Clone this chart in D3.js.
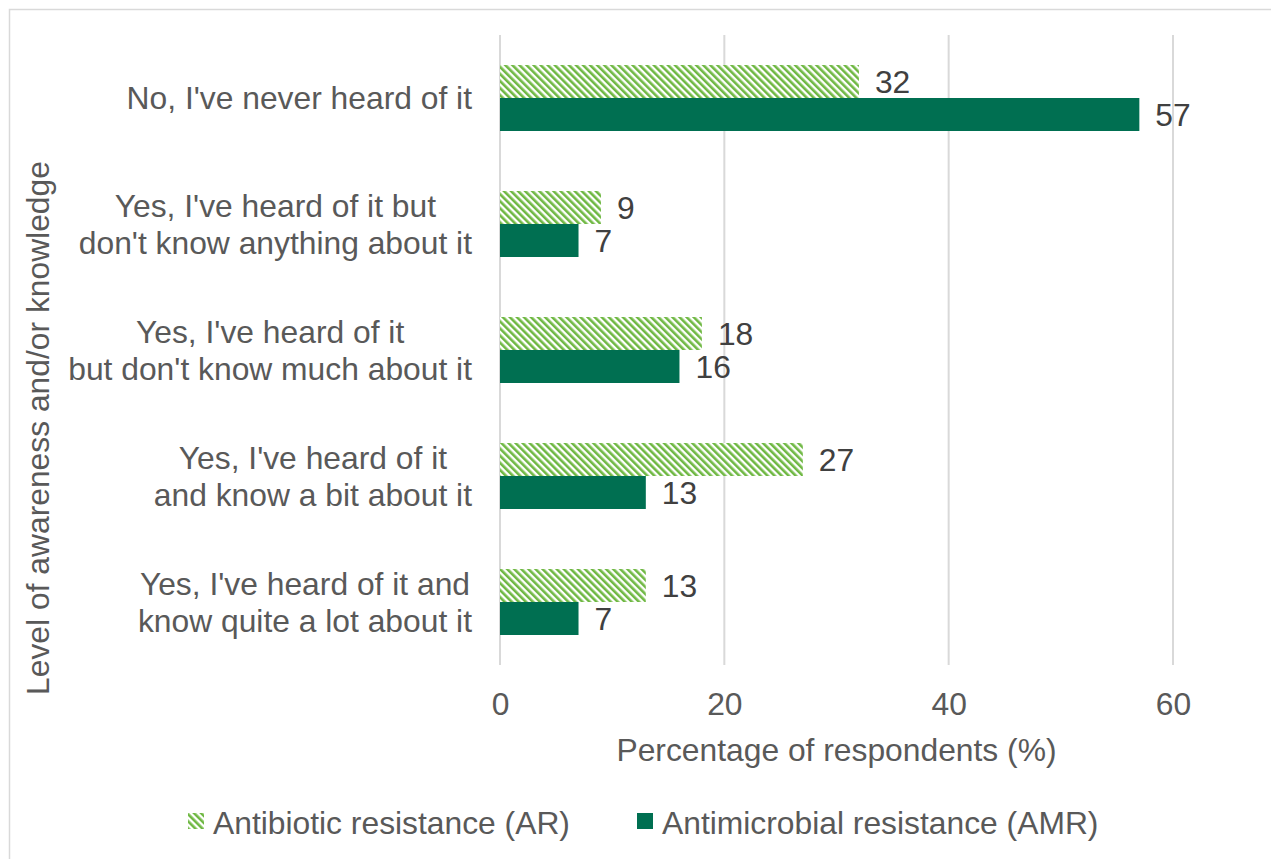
<!DOCTYPE html>
<html lang="en">
<head>
    <meta charset="UTF-8">
    <title>Awareness of AR and AMR</title>
    <script src="https://d3js.org/d3.v7.min.js"></script>
    <style>
        body { margin: 0; background: #fff; }
        text { font-family: "Liberation Sans", Arial, sans-serif; }
    </style>
</head>
<body>
    <script>
        var categories = [
            ["No, I've never heard of it"],
            ["Yes, I've heard of it but", "don't know anything about it"],
            ["Yes, I've heard of it", "but don't know much about it"],
            ["Yes, I've heard of it", "and know a bit about it"],
            ["Yes, I've heard of it and", "know quite a lot about it"]
        ];
        var seriesNames = ['Antibiotic resistance (AR)', 'Antimicrobial resistance (AMR)'];
        var arValues = [32, 9, 18, 27, 13];
        var amrValues = [57, 7, 16, 13, 7];
        var xTicks = [0, 20, 40, 60];

        var width = 1271;
        var height = 859;
        var plotLeft = 500, plotRight = 1173, plotTop = 35, plotBottom = 665;
        var fontSize = 31.8;

        var svg = d3.select('body')
                    .append('svg')
                    .attr('width', width)
                    .attr('height', height);

        // hatch for the AR bars
        var pat = svg.append('defs')
                     .append('pattern')
                     .attr('id', 'hatch')
                     .attr('patternUnits', 'userSpaceOnUse')
                     .attr('width', 5)
                     .attr('height', 5)
                     .attr('patternTransform', 'rotate(-45)');
        pat.append('rect').attr('width', 5).attr('height', 5).attr('fill', '#fff');
        pat.append('rect').attr('width', 2.6).attr('height', 5).attr('fill', '#6fb843');

        // chart frame
        svg.append('rect')
           .attr('x', 9.5).attr('y', 9.5)
           .attr('width', 1300).attr('height', 900)
           .attr('fill', 'none')
           .attr('stroke', '#d9d9d9')
           .attr('stroke-width', 1.5);

        var x = d3.scaleLinear().domain([0, 60]).range([plotLeft, plotRight]);
        var y = d3.scaleBand()
                  .domain(d3.range(categories.length))
                  .range([plotTop, plotBottom]);
        var inner = d3.scaleBand().domain([0, 1]).range([30, y.bandwidth() - 30]);

        // gridlines
        svg.append('g')
           .selectAll('line')
           .data(xTicks)
           .enter()
           .append('line')
           .attr('x1', function(d) { return x(d); })
           .attr('x2', function(d) { return x(d); })
           .attr('y1', plotTop)
           .attr('y2', plotBottom)
           .attr('stroke', '#d9d9d9')
           .attr('stroke-width', 2);

        var xAxis = d3.axisBottom(x).tickValues(xTicks).tickSize(0).tickPadding(27);
        var gx = svg.append('g')
                    .attr('transform', 'translate(0,' + plotBottom + ')')
                    .call(xAxis);
        gx.select('.domain').remove();
        gx.selectAll('text')
          .attr('font-size', fontSize)
          .attr('fill', '#595959')
          .attr('font-family', '"Liberation Sans", Arial, sans-serif');

        var series = [
            { name: seriesNames[0], values: arValues, fill: 'url(#hatch)' },
            { name: seriesNames[1], values: amrValues, fill: '#006f51' }
        ];

        series.forEach(function(s, si) {
            var g = svg.append('g');
            g.selectAll('rect')
             .data(s.values)
             .enter()
             .append('rect')
             .attr('x', x(0))
             .attr('y', function(d, i) { return y(i) + inner(si); })
             .attr('width', function(d) { return x(d) - x(0); })
             .attr('height', inner.bandwidth())
             .attr('fill', s.fill);
            g.selectAll('text')
             .data(s.values)
             .enter()
             .append('text')
             .attr('x', function(d) { return x(d) + 16; })
             .attr('y', function(d, i) { return y(i) + inner(si) + inner.bandwidth() / 2; })
             .attr('dy', '0.35em')
             .attr('font-size', fontSize)
             .attr('fill', '#404040')
             .text(function(d) { return d; });
        });

        // category labels: lines centred, block right-aligned to the axis
        var labels = svg.append('g')
                        .selectAll('text')
                        .data(categories)
                        .enter()
                        .append('text')
                        .attr('text-anchor', 'middle')
                        .attr('font-size', fontSize)
                        .attr('fill', '#595959')
                        .attr('transform', function(d, i) {
                            return 'translate(' + (plotLeft - 28) + ',' + (y(i) + y.bandwidth() / 2) + ')';
                        });
        labels.selectAll('tspan')
              .data(function(d) { return d; })
              .enter()
              .append('tspan')
              .attr('y', function(d, j, nodes) {
                  var n = nodes.length;
                  return (j - (n - 1) / 2) * 37;
              })
              .attr('dy', '0.35em')
              .text(function(d) { return d; });
        labels.each(function() {
            var spans = d3.select(this).selectAll('tspan');
            var maxW = d3.max(spans.nodes(), function(n) { return n.getComputedTextLength(); });
            spans.attr('x', -maxW / 2);
        });

        // axis titles
        svg.append('text')
           .attr('x', (plotLeft + plotRight) / 2)
           .attr('y', 750)
           .attr('dy', '0.35em')
           .attr('text-anchor', 'middle')
           .attr('font-size', fontSize)
           .attr('fill', '#595959')
           .text('Percentage of respondents (%)');

        svg.append('text')
           .attr('transform', 'translate(38,428) rotate(-90)')
           .attr('dy', '0.35em')
           .attr('text-anchor', 'middle')
           .attr('font-size', fontSize)
           .attr('fill', '#595959')
           .text('Level of awareness and/or knowledge');

        // legend
        var legendX = [188, 637];
        var legend = svg.append('g')
                        .selectAll('g')
                        .data(series)
                        .enter()
                        .append('g')
                        .attr('transform', function(d, i) { return 'translate(' + legendX[i] + ',823)'; });
        legend.append('rect')
              .attr('x', 0).attr('y', -10)
              .attr('width', 16).attr('height', 16)
              .attr('fill', function(d) { return d.fill; });
        legend.append('text')
              .attr('x', 25)
              .attr('dy', '0.35em')
              .attr('font-size', fontSize)
              .attr('fill', '#595959')
              .text(function(d) { return d.name; });
    </script>
</body>
</html>
